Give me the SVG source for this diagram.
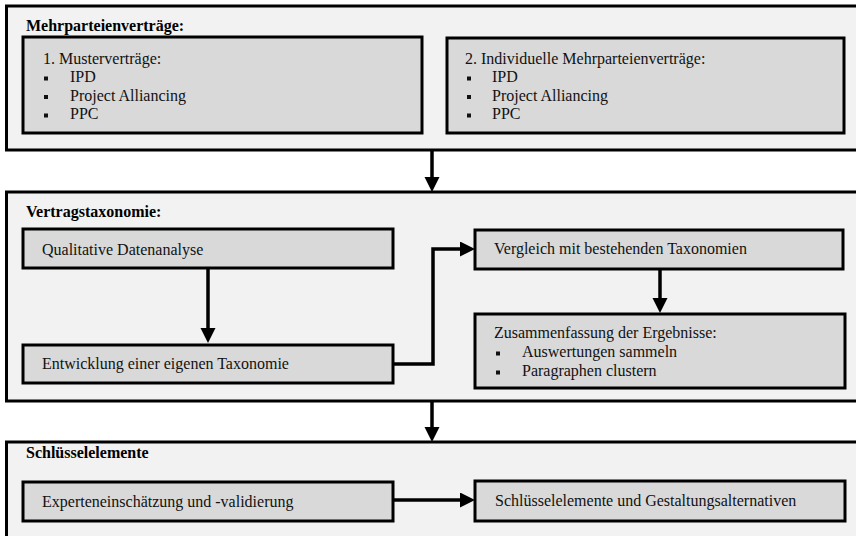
<svg xmlns="http://www.w3.org/2000/svg" width="856" height="536" viewBox="0 0 856 536">
  <style>
    .section { fill: #f2f2f2; stroke: #000; stroke-width: 3; }
    .box { fill: #d9d9d9; stroke: #000; stroke-width: 3; }
    .t { font-family: 'Liberation Serif', Tinos, 'Times New Roman', 'DejaVu Serif', serif; font-size: 16px; fill: #111; }
    .h { font-family: 'Liberation Serif', Tinos, 'Times New Roman', 'DejaVu Serif', serif; font-size: 16px; font-weight: bold; fill: #000; }
    .bullet { fill: #111; }
    .conn { fill: none; stroke: #000; stroke-width: 3.5; }
  </style>
  <defs>
    <marker id="arrow" markerUnits="userSpaceOnUse" markerWidth="16" markerHeight="16" refX="5" refY="7.5" orient="auto">
      <path d="M0,0 L15,7.5 L0,15 z" fill="#000"/>
    </marker>
  </defs>

  <rect width="856" height="536" fill="#fff"/>

  <!-- Section containers -->
  <g id="sec-mehrparteien">
    <rect class="section" x="6.5" y="6" width="870" height="144"/>
    <text class="h" x="26" y="31">Mehrparteienverträge:</text>
  </g>
  <g id="sec-taxonomie">
    <rect class="section" x="6.5" y="192" width="870" height="209"/>
    <text class="h" x="26" y="217">Vertragstaxonomie:</text>
  </g>
  <g id="sec-schluessel">
    <rect class="section" x="6.5" y="442" width="870" height="110"/>
    <text class="h" x="26" y="458">Schlüsselelemente</text>
  </g>

  <!-- Connectors -->
  <g id="connectors">
    <path class="conn" d="M432,150 V182" marker-end="url(#arrow)"/>
    <path class="conn" d="M208,268 V333" marker-end="url(#arrow)"/>
    <path class="conn" d="M393,364 H433 V249 H465" marker-end="url(#arrow)"/>
    <path class="conn" d="M660,269 V303" marker-end="url(#arrow)"/>
    <path class="conn" d="M432,401 V432" marker-end="url(#arrow)"/>
    <path class="conn" d="M393,500 H465" marker-end="url(#arrow)"/>
  </g>

  <!-- Nodes -->
  <g id="muster">
    <rect class="box" x="23" y="37" width="399" height="96"/>
    <text class="t" x="43" y="63.5">1. Musterverträge:</text>
    <rect class="bullet" x="44" y="76.5" width="4" height="4"/>
    <text class="t" x="70" y="82">IPD</text>
    <rect class="bullet" x="44" y="95" width="4" height="4"/>
    <text class="t" x="70" y="100.5">Project Alliancing</text>
    <rect class="bullet" x="44" y="113.5" width="4" height="4"/>
    <text class="t" x="70" y="119">PPC</text>
  </g>
  <g id="individuell">
    <rect class="box" x="447" y="38" width="397" height="95"/>
    <text class="t" x="465" y="63.5">2. Individuelle Mehrparteienverträge:</text>
    <rect class="bullet" x="467" y="76.5" width="4" height="4"/>
    <text class="t" x="492" y="82">IPD</text>
    <rect class="bullet" x="467" y="95" width="4" height="4"/>
    <text class="t" x="492" y="100.5">Project Alliancing</text>
    <rect class="bullet" x="467" y="113.5" width="4" height="4"/>
    <text class="t" x="492" y="119">PPC</text>
  </g>
  <g id="qualitativ">
    <rect class="box" x="23" y="229" width="370" height="39"/>
    <text class="t" x="42" y="255">Qualitative Datenanalyse</text>
  </g>
  <g id="entwicklung">
    <rect class="box" x="23" y="345" width="370" height="38"/>
    <text class="t" x="42" y="369">Entwicklung einer eigenen Taxonomie</text>
  </g>
  <g id="vergleich">
    <rect class="box" x="475" y="230" width="368" height="39"/>
    <text class="t" x="494" y="254">Vergleich mit bestehenden Taxonomien</text>
  </g>
  <g id="zusammenfassung">
    <rect class="box" x="475" y="314" width="370" height="74"/>
    <text class="t" x="494" y="338">Zusammenfassung der Ergebnisse:</text>
    <rect class="bullet" x="496" y="351.5" width="4" height="4"/>
    <text class="t" x="522" y="357">Auswertungen sammeln</text>
    <rect class="bullet" x="496" y="370.5" width="4" height="4"/>
    <text class="t" x="522" y="376">Paragraphen clustern</text>
  </g>
  <g id="experten">
    <rect class="box" x="23" y="482" width="370" height="39"/>
    <text class="t" x="42" y="507">Experteneinschätzung und -validierung</text>
  </g>
  <g id="gestaltung">
    <rect class="box" x="475" y="481" width="370" height="40"/>
    <text class="t" x="495" y="506">Schlüsselelemente und Gestaltungsalternativen</text>
  </g>
</svg>
